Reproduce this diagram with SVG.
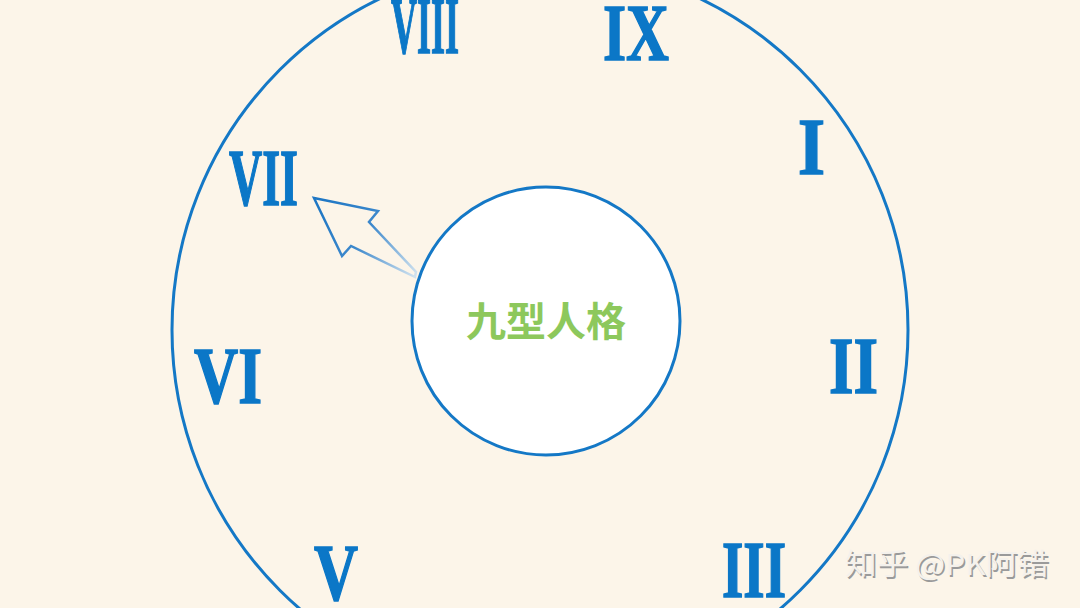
<svg xmlns="http://www.w3.org/2000/svg" width="1080" height="608" viewBox="0 0 1080 608">
  <defs>
    <style>
      .num { font-family: "Liberation Serif", "DejaVu Serif", serif; font-weight: bold; font-size: 80px; fill: #0B77C7; stroke: #0B77C7; stroke-width: 1.6; }
      .ring { fill: none; stroke: #1478C6; stroke-width: 3; }
      .hub { fill: #FFFFFF; stroke: #1478C6; stroke-width: 3; }
      .title { font-family: "Noto Sans CJK SC", "Noto Sans", sans-serif; font-weight: bold; font-size: 40px; fill: #8DC85C; }
      .wm { font-family: "Noto Sans CJK SC", "Noto Sans", sans-serif; font-size: 29px; }
    </style>
    <linearGradient id="arrowGrad" gradientUnits="userSpaceOnUse" x1="320" y1="205" x2="416" y2="274">
      <stop offset="0" stop-color="#1F77C4"/>
      <stop offset="0.45" stop-color="#3C88CC"/>
      <stop offset="1" stop-color="#CFE1EE"/>
    </linearGradient>
  </defs>
  <rect x="0" y="0" width="1080" height="608" fill="#FCF5E9"/>

  <g id="dial">
    <circle class="ring" cx="540" cy="330" r="368"/>
  </g>

  <g id="connectors">
    <polygon points="314,198 378,211 369,222 416,272 415,277 351,246 342,256" fill="none" stroke="url(#arrowGrad)" stroke-width="2.5" stroke-linejoin="miter"/>
  </g>

  <g id="center">
    <circle class="hub" cx="546" cy="321" r="134"/>
    <text class="title" x="546" y="336" text-anchor="middle">九型人格</text>
  </g>

  <g id="n8"><text class="num" x="391" y="53" textLength="68" lengthAdjust="spacingAndGlyphs">VIII</text></g>
  <g id="n9"><text class="num" x="603" y="60" textLength="66" lengthAdjust="spacingAndGlyphs">IX</text></g>
  <g id="n1"><text class="num" x="798" y="174" textLength="27" lengthAdjust="spacingAndGlyphs">I</text></g>
  <g id="n2"><text class="num" x="829" y="393" textLength="49" lengthAdjust="spacingAndGlyphs">II</text></g>
  <g id="n3"><text class="num" x="722" y="597" textLength="64" lengthAdjust="spacingAndGlyphs">III</text></g>
  <g id="n5"><text class="num" x="314" y="600" textLength="44" lengthAdjust="spacingAndGlyphs">V</text></g>
  <g id="n6"><text class="num" x="194" y="403" textLength="68" lengthAdjust="spacingAndGlyphs">VI</text></g>
  <g id="n7"><text class="num" x="229" y="205" textLength="69" lengthAdjust="spacingAndGlyphs">VII</text></g>

  <g id="watermark">
    <text class="wm" x="846.5" y="576.5" textLength="204" lengthAdjust="spacingAndGlyphs" fill="#9A9A9A">知乎 @PK阿错</text>
    <text class="wm" x="845" y="575" textLength="204" lengthAdjust="spacingAndGlyphs" fill="#F4F1EC">知乎 @PK阿错</text>
  </g>
</svg>
